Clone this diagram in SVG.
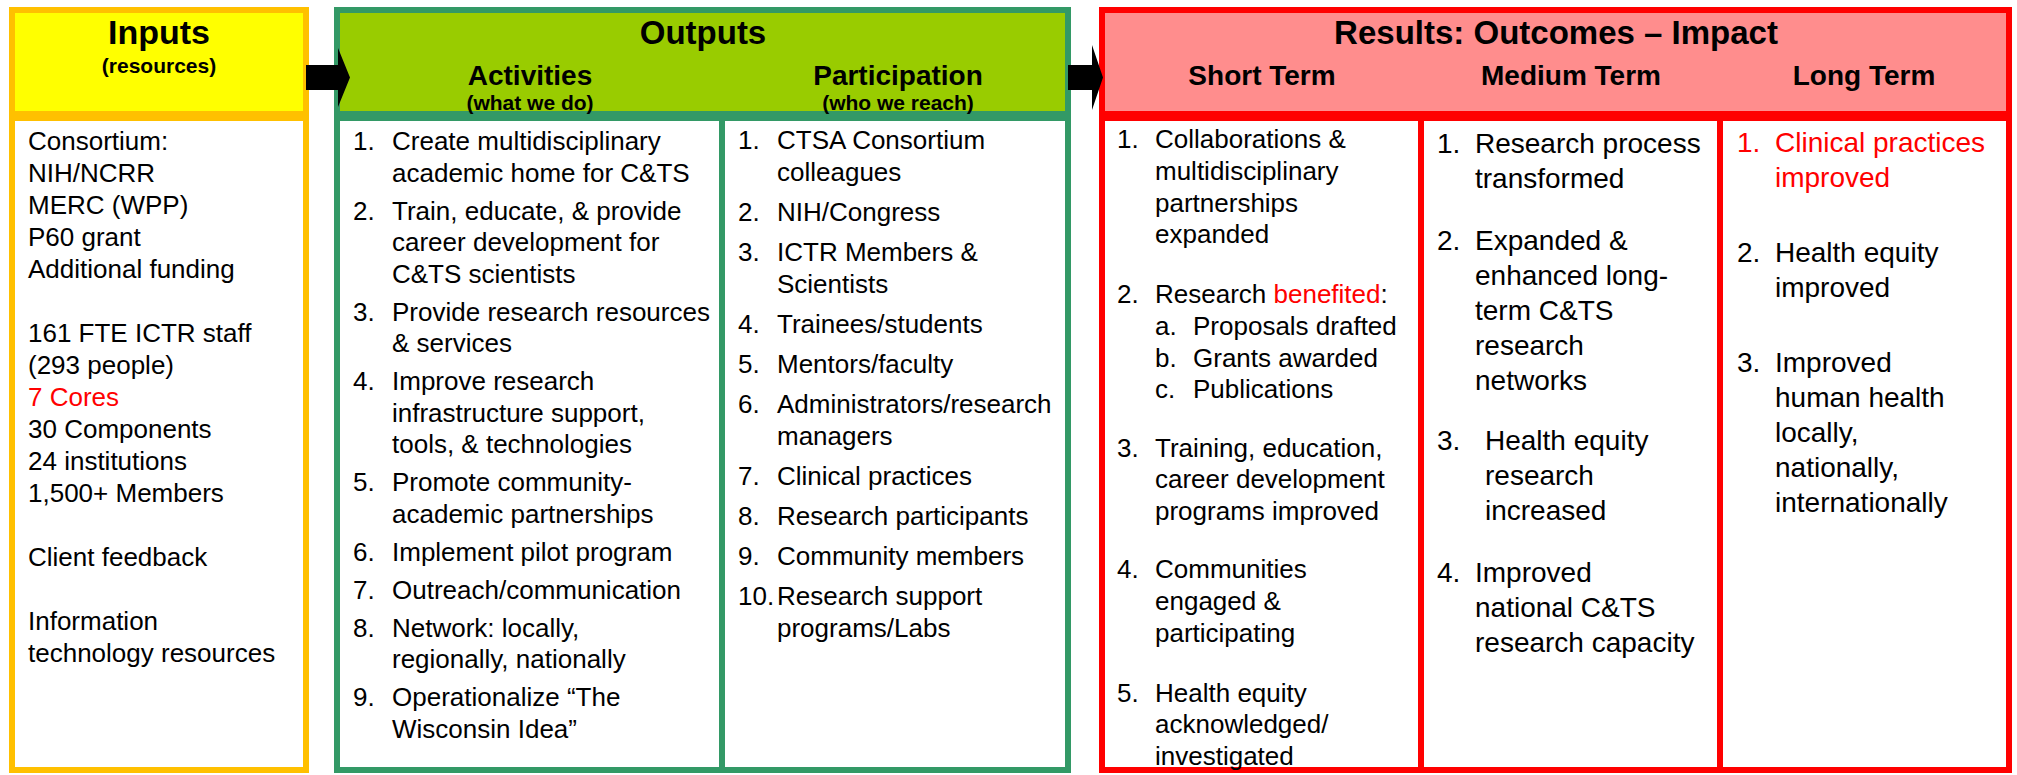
<svg xmlns="http://www.w3.org/2000/svg" width="2017" height="775" viewBox="0 0 2017 775">
<style>
text{font-family:"Liberation Sans",Arial,sans-serif;fill:#000}
.b{font-size:26px}
.m{font-size:28px}
.h1{font-weight:bold;font-size:33px;text-anchor:middle}
.h2{font-weight:bold;font-size:28px;text-anchor:middle}
.h3{font-weight:bold;font-size:21px;text-anchor:middle}
.red{fill:#FF0000}
.yb{stroke:#FFC000;stroke-width:6}
.gb{stroke:#339966;stroke-width:6}
.rb{stroke:#FF0000;stroke-width:6}
</style>
<rect width="2017" height="775" fill="#fff"/>

<g id="inputs">
  <rect class="yb" x="12" y="10" width="294" height="104" fill="#FFFF00"/>
  <rect class="yb" x="12" y="118" width="294" height="652" fill="#fff"/>
  <text class="h1" x="159" y="44" style="font-size:34px">Inputs</text>
  <text class="h3" x="159" y="73">(resources)</text>
  <g class="b">
    <text x="28" y="150">Consortium:</text>
    <text x="28" y="182">NIH/NCRR</text>
    <text x="28" y="214">MERC (WPP)</text>
    <text x="28" y="246">P60 grant</text>
    <text x="28" y="278">Additional funding</text>
    <text x="28" y="342">161 FTE ICTR staff</text>
    <text x="28" y="374">(293 people)</text>
    <text x="28" y="406" class="red">7 Cores</text>
    <text x="28" y="438">30 Components</text>
    <text x="28" y="470">24 institutions</text>
    <text x="28" y="502">1,500+ Members</text>
    <text x="28" y="566">Client feedback</text>
    <text x="28" y="630">Information</text>
    <text x="28" y="662">technology resources</text>
  </g>
</g>

<g id="outputs">
  <rect class="gb" x="337" y="10" width="731" height="104" fill="#99CC00"/>
  <rect class="gb" x="337" y="118" width="731" height="652" fill="#fff"/>
  <line class="gb" x1="722" y1="118" x2="722" y2="770"/>
  <text class="h1" x="703" y="44">Outputs</text>
</g>

<g id="activities">
  <text class="h2" x="530" y="85">Activities</text>
  <text class="h3" x="530" y="110">(what we do)</text>
  <g class="b">
    <text x="353" y="150">1.</text><text x="392" y="150">Create multidisciplinary</text>
    <text x="392" y="181.5">academic home for C&amp;TS</text>
    <text x="353" y="219.5">2.</text><text x="392" y="219.5">Train, educate, &amp; provide</text>
    <text x="392" y="251">career development for</text>
    <text x="392" y="282.5">C&amp;TS scientists</text>
    <text x="353" y="320.5">3.</text><text x="392" y="320.5">Provide research resources</text>
    <text x="392" y="352">&amp; services</text>
    <text x="353" y="390">4.</text><text x="392" y="390">Improve research</text>
    <text x="392" y="421.5">infrastructure support,</text>
    <text x="392" y="453">tools, &amp; technologies</text>
    <text x="353" y="491">5.</text><text x="392" y="491">Promote community-</text>
    <text x="392" y="522.5">academic partnerships</text>
    <text x="353" y="560.5">6.</text><text x="392" y="560.5">Implement pilot program</text>
    <text x="353" y="598.5">7.</text><text x="392" y="598.5">Outreach/communication</text>
    <text x="353" y="636.5">8.</text><text x="392" y="636.5">Network: locally,</text>
    <text x="392" y="668">regionally, nationally</text>
    <text x="353" y="706">9.</text><text x="392" y="706">Operationalize “The</text>
    <text x="392" y="737.5">Wisconsin Idea”</text>
  </g>
</g>

<g id="participation">
  <text class="h2" x="898" y="85">Participation</text>
  <text class="h3" x="898" y="110">(who we reach)</text>
  <g class="b">
    <text x="738" y="149">1.</text><text x="777" y="149">CTSA Consortium</text>
    <text x="777" y="181">colleagues</text>
    <text x="738" y="221">2.</text><text x="777" y="221">NIH/Congress</text>
    <text x="738" y="261">3.</text><text x="777" y="261">ICTR Members &amp;</text>
    <text x="777" y="293">Scientists</text>
    <text x="738" y="333">4.</text><text x="777" y="333">Trainees/students</text>
    <text x="738" y="373">5.</text><text x="777" y="373">Mentors/faculty</text>
    <text x="738" y="413">6.</text><text x="777" y="413">Administrators/research</text>
    <text x="777" y="445">managers</text>
    <text x="738" y="485">7.</text><text x="777" y="485">Clinical practices</text>
    <text x="738" y="525">8.</text><text x="777" y="525">Research participants</text>
    <text x="738" y="565">9.</text><text x="777" y="565">Community members</text>
    <text x="738" y="605">10.</text><text x="777" y="605">Research support</text>
    <text x="777" y="637">programs/Labs</text>
  </g>
</g>

<g id="results">
  <rect class="rb" x="1102" y="10" width="907" height="104" fill="#FF8D8D"/>
  <rect class="rb" x="1102" y="118" width="907" height="652" fill="#fff"/>
  <line class="rb" x1="1421" y1="118" x2="1421" y2="770"/>
  <line class="rb" x1="1720" y1="118" x2="1720" y2="770"/>
  <text class="h1" x="1556" y="44">Results: Outcomes – Impact</text>
</g>

<g id="short-term">
  <text class="h2" x="1262" y="85">Short Term</text>
  <g class="b">
    <text x="1117" y="148">1.</text><text x="1155" y="148">Collaborations &amp;</text>
    <text x="1155" y="180">multidisciplinary</text>
    <text x="1155" y="212">partnerships</text>
    <text x="1155" y="243">expanded</text>
    <text x="1117" y="303">2.</text><text x="1155" y="303">Research <tspan class="red">benefited</tspan>:</text>
    <text x="1155" y="335">a.</text><text x="1193" y="335">Proposals drafted</text>
    <text x="1155" y="367">b.</text><text x="1193" y="367">Grants awarded</text>
    <text x="1155" y="398">c.</text><text x="1193" y="398">Publications</text>
    <text x="1117" y="457">3.</text><text x="1155" y="457">Training, education,</text>
    <text x="1155" y="488">career development</text>
    <text x="1155" y="520">programs improved</text>
    <text x="1117" y="578">4.</text><text x="1155" y="578">Communities</text>
    <text x="1155" y="610">engaged &amp;</text>
    <text x="1155" y="642">participating</text>
    <text x="1117" y="702">5.</text><text x="1155" y="702">Health equity</text>
    <text x="1155" y="733">acknowledged/</text>
    <text x="1155" y="765">investigated</text>
  </g>
</g>

<g id="medium-term">
  <text class="h2" x="1571" y="85">Medium Term</text>
  <g class="m">
    <text x="1437" y="153">1.</text><text x="1475" y="153">Research process</text>
    <text x="1475" y="188">transformed</text>
    <text x="1437" y="250">2.</text><text x="1475" y="250">Expanded &amp;</text>
    <text x="1475" y="285">enhanced long-</text>
    <text x="1475" y="320">term C&amp;TS</text>
    <text x="1475" y="355">research</text>
    <text x="1475" y="390">networks</text>
    <text x="1437" y="450">3.</text><text x="1485" y="450">Health equity</text>
    <text x="1485" y="485">research</text>
    <text x="1485" y="520">increased</text>
    <text x="1437" y="582">4.</text><text x="1475" y="582">Improved</text>
    <text x="1475" y="617">national C&amp;TS</text>
    <text x="1475" y="652">research capacity</text>
  </g>
</g>

<g id="long-term">
  <text class="h2" x="1864" y="85">Long Term</text>
  <g class="m">
    <text x="1737" y="152" class="red">1.</text><text x="1775" y="152" class="red">Clinical practices</text>
    <text x="1775" y="187" class="red">improved</text>
    <text x="1737" y="262">2.</text><text x="1775" y="262">Health equity</text>
    <text x="1775" y="297">improved</text>
    <text x="1737" y="372">3.</text><text x="1775" y="372">Improved</text>
    <text x="1775" y="407">human health</text>
    <text x="1775" y="442">locally,</text>
    <text x="1775" y="477">nationally,</text>
    <text x="1775" y="512">internationally</text>
  </g>
</g>

<g id="connectors" fill="#000">
  <path d="M306,65 H338 V48 L350,77.5 L338,107 V90 H306 Z"/>
  <path d="M1068,65 H1092 V45 L1103,77.5 L1092,110 V90 H1068 Z"/>
</g>
</svg>
